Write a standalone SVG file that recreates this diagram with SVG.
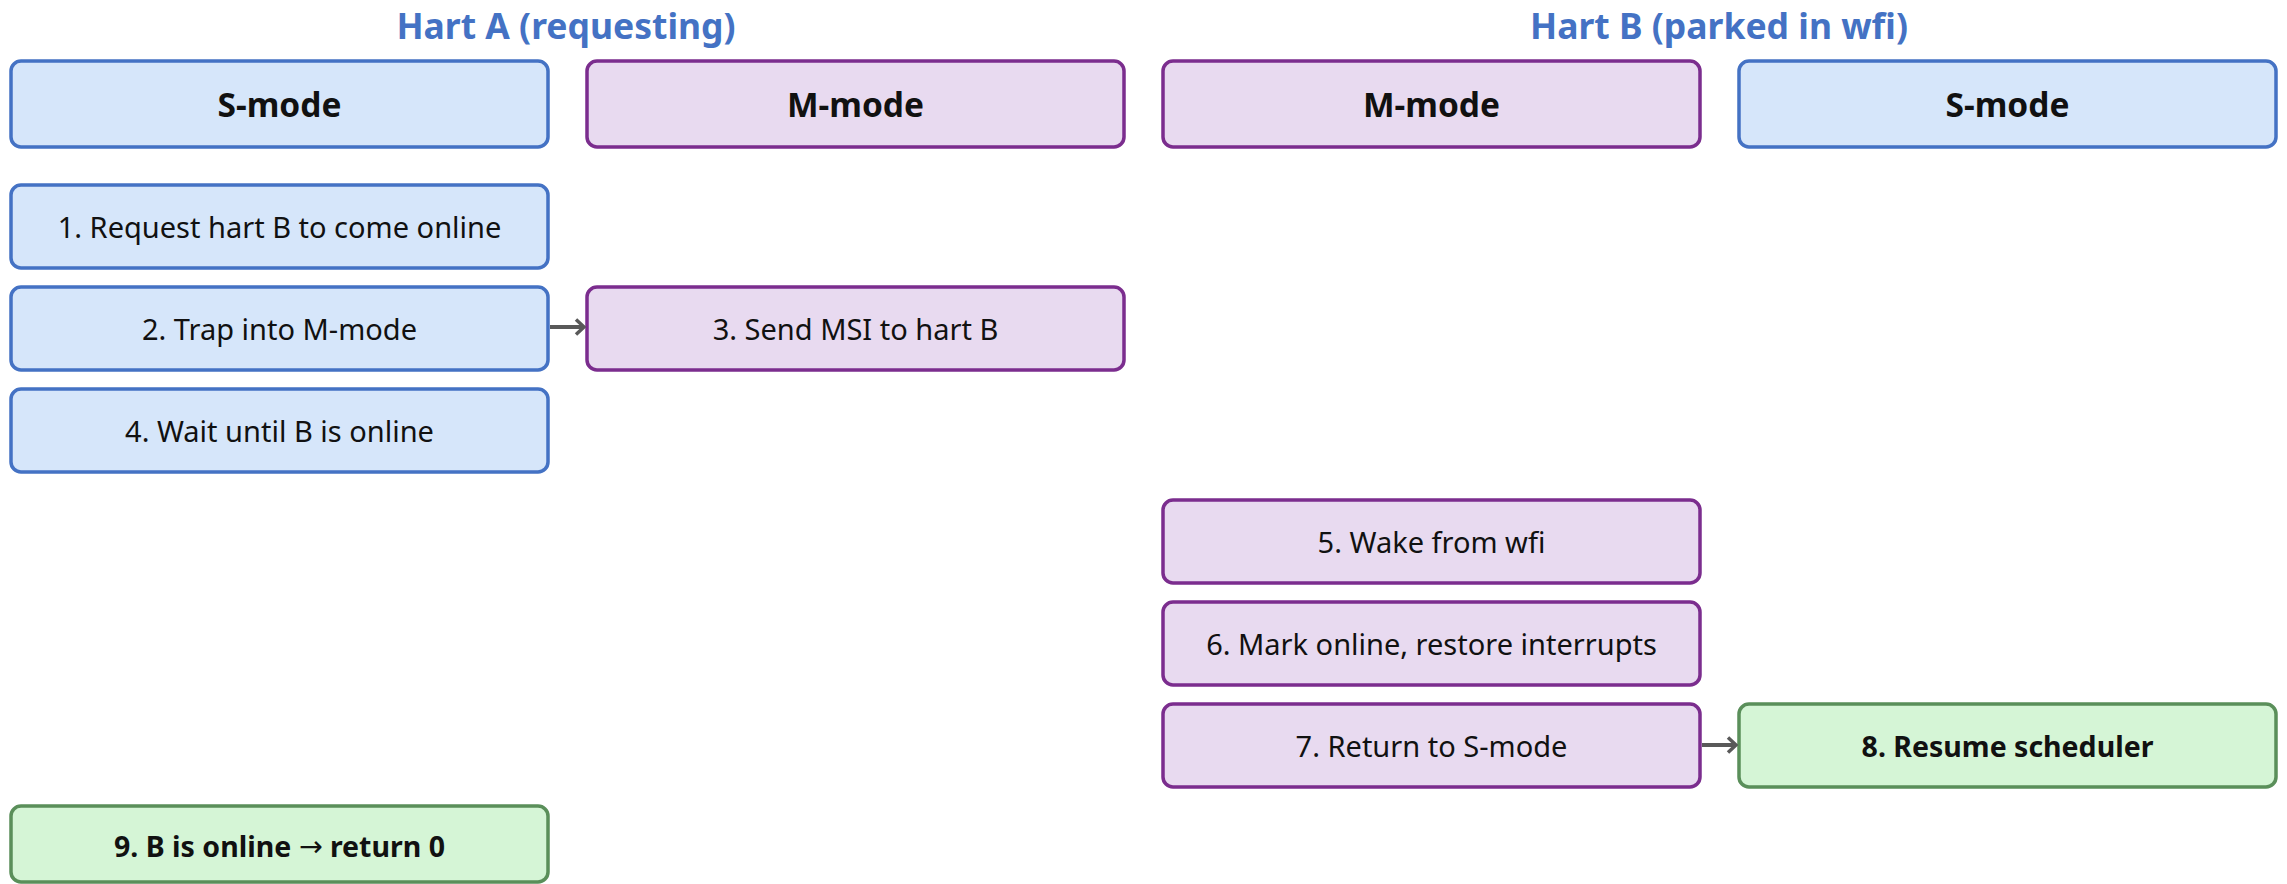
<svg xmlns="http://www.w3.org/2000/svg" width="2287" height="884" viewBox="0 0 2287 884">
  <style>
    .title { font-family: "Noto Sans", "Liberation Sans", sans-serif; font-weight: bold; font-size: 35.5px; fill: #4472C4; text-anchor: middle; }
    .head { font-family: "Noto Sans", "Liberation Sans", sans-serif; font-weight: bold; font-size: 33.5px; fill: #111; text-anchor: middle; dominant-baseline: central; }
    .lbl { font-family: "Noto Sans", "Liberation Sans", sans-serif; font-size: 29px; fill: #111; text-anchor: middle; dominant-baseline: central; }
    .lbl.b { font-weight: bold; font-size: 28.5px; }
    .sym { font-family: "DejaVu Sans", sans-serif; font-weight: normal; }
    .s { fill: #D6E6FA; stroke: #4472C4; stroke-width: 3.5; }
    .m { fill: #E8DAF0; stroke: #7B2D8E; stroke-width: 3.5; }
    .ok { fill: #D5F5D6; stroke: #5A8F5A; stroke-width: 3.5; }
    .edge { stroke: #595959; stroke-width: 4; fill: none; }
  </style>
  <defs>
    <marker id="arrow" viewBox="0 0 12 18" refX="10" refY="9" markerWidth="12" markerHeight="18" markerUnits="userSpaceOnUse" orient="auto">
      <path d="M2,1.5 L10,9 L2,16.5" fill="none" stroke="#595959" stroke-width="3.5"/>
    </marker>
  </defs>

  <!-- hart titles -->
  <text class="title" x="566" y="39">Hart A (requesting)</text>
  <text class="title" x="1719" y="39">Hart B (parked in wfi)</text>

  <!-- column headers -->
  <g id="hdr-a-s"><rect class="s" x="11" y="61" width="537" height="86" rx="10"/><text class="head" x="279.5" y="104">S-mode</text></g>
  <g id="hdr-a-m"><rect class="m" x="587" y="61" width="537" height="86" rx="10"/><text class="head" x="855.5" y="104">M-mode</text></g>
  <g id="hdr-b-m"><rect class="m" x="1163" y="61" width="537" height="86" rx="10"/><text class="head" x="1431.5" y="104">M-mode</text></g>
  <g id="hdr-b-s"><rect class="s" x="1739" y="61" width="537" height="86" rx="10"/><text class="head" x="2007.5" y="104">S-mode</text></g>

  <!-- steps -->
  <g id="step1"><rect class="s" x="11" y="185" width="537" height="83" rx="10"/><text class="lbl" x="279.5" y="226.5">1. Request hart B to come online</text></g>
  <g id="step2"><rect class="s" x="11" y="287" width="537" height="83" rx="10"/><text class="lbl" x="279.5" y="328.5">2. Trap into M-mode</text></g>
  <g id="step3"><rect class="m" x="587" y="287" width="537" height="83" rx="10"/><text class="lbl" x="855.5" y="328.5">3. Send MSI to hart B</text></g>
  <g id="step4"><rect class="s" x="11" y="389" width="537" height="83" rx="10"/><text class="lbl" x="279.5" y="430.5">4. Wait until B is online</text></g>
  <g id="step5"><rect class="m" x="1163" y="500" width="537" height="83" rx="10"/><text class="lbl" x="1431.5" y="541.5">5. Wake from wfi</text></g>
  <g id="step6"><rect class="m" x="1163" y="602" width="537" height="83" rx="10"/><text class="lbl" x="1431.5" y="643.5">6. Mark online, restore interrupts</text></g>
  <g id="step7"><rect class="m" x="1163" y="704" width="537" height="83" rx="10"/><text class="lbl" x="1431.5" y="745.5">7. Return to S-mode</text></g>
  <g id="step8"><rect class="ok" x="1739" y="704" width="537" height="83" rx="10"/><text class="lbl b" x="2007.5" y="745.5">8. Resume scheduler</text></g>
  <g id="step9"><rect class="ok" x="11" y="806" width="537" height="76" rx="10"/><text class="lbl b" x="279.5" y="846">9. B is online <tspan class="sym">→</tspan> return 0</text></g>

  <!-- connectors -->
  <g id="connectors">
    <line class="edge" x1="550" y1="327" x2="584" y2="327" marker-end="url(#arrow)"/>
    <line class="edge" x1="1702" y1="745" x2="1736" y2="745" marker-end="url(#arrow)"/>
  </g>
</svg>
